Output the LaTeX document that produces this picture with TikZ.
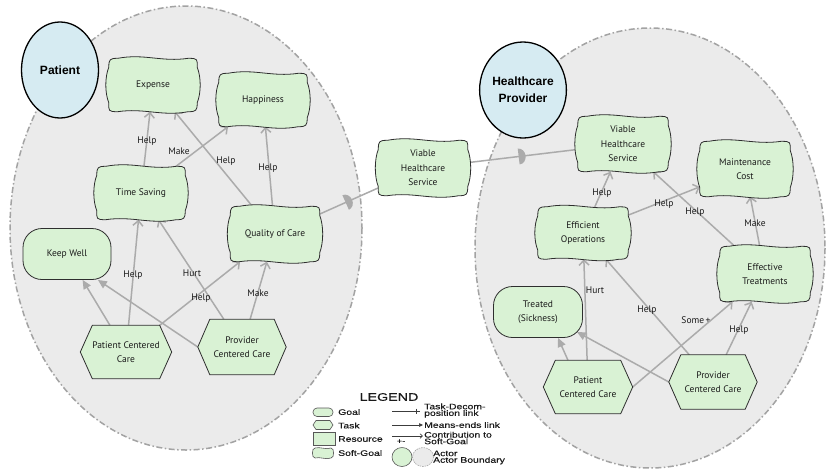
\documentclass[tikz,border=0pt]{standalone}
\usepackage{fontspec}
\usepackage{graphicx}
\setmainfont{PT Sans}
\newfontfamily\actorfont{Liberation Sans}
\newfontfamily\legendfont[FakeStretch=1.3,FakeBold=0.4]{Liberation Sans}
\usetikzlibrary{calc,arrows.meta,decorations.markings,shapes.geometric}

\definecolor{sgfill}{HTML}{D9F2D4}
\definecolor{actfill}{HTML}{D6EBF2}
\definecolor{bndfill}{HTML}{EBEBEB}
\definecolor{bndline}{HTML}{A3A3A3}
\definecolor{edgecol}{HTML}{ABABAB}
\definecolor{outline}{HTML}{2E2E2E}
\definecolor{inkcol}{HTML}{1A1A1A}

\pgfdeclarelayer{back}
\pgfdeclarelayer{edges}
\pgfdeclarelayer{shapes}
\pgfsetlayers{back,edges,shapes,main}

\tikzset{
  elem/.style={rectangle, draw=none, inner sep=0pt, align=center, text=inkcol,
    font=\fontsize{9.5}{14.5}\selectfont, minimum width=88pt, minimum height=53pt},
  sgshape/.style={draw=outline, fill=sgfill, line width=0.8pt},
  goalnode/.style={elem, draw=outline, fill=sgfill, line width=0.8pt, rounded corners=19pt},
  actor/.style={ellipse, draw=black, line width=1.3pt, fill=actfill, inner sep=0pt,
    minimum width=77pt, minimum height=96pt, align=center,
    font=\actorfont\bfseries\fontsize{12}{17}\selectfont},
  boundary/.style={draw=bndline, fill=bndfill, line width=1.5pt,
    dash pattern=on 6pt off 2.5pt on 1.5pt off 2.5pt},
  contrib/.style={draw=edgecol, line width=1.5pt, -{Straight Barb[length=5pt,width=10pt]}},
  meansend/.style={draw=edgecol, line width=1.5pt, -{Triangle[length=9pt,width=8pt]}},
  dependency/.style={draw=edgecol, line width=1.5pt, postaction={decorate},
    decoration={markings, mark=at position 0.49 with
      {\fill[edgecol] (-3pt,-8pt) arc[start angle=-90,end angle=90,x radius=7pt,y radius=8pt] -- cycle;}}},
  lbl/.style={inner sep=0pt, text=inkcol, font=\fontsize{9.5}{11}\selectfont},
  legtext/.style={inner sep=0pt, anchor=west, align=left, text=inkcol,
    font=\legendfont\fontsize{8}{6.6}\selectfont},
  legshape/.style={draw=outline!80, fill=sgfill, line width=0.6pt},
  legline/.style={draw=inkcol!85, line width=0.7pt},
}

% soft-goal outline drawn around a named rectangular node
\newcommand\sgoutline[1]{%
  \path[sgshape]
    ($(#1.north west)+(9,0)$)
    .. controls ($(#1.north west)!0.4!(#1.north east)+(0,-5)$) and ($(#1.north west)!0.6!(#1.north east)+(0,4)$) .. ($(#1.north east)+(-9,0)$)
    .. controls ($(#1.north east)+(1,0)$) and ($(#1.north east)+(0,1)$) .. ($(#1.north east)+(0,9)$)
    .. controls ($(#1.north east)!0.35!(#1.south east)+(4,0)$) and ($(#1.north east)!0.65!(#1.south east)+(4,0)$) .. ($(#1.south east)+(0,-9)$)
    .. controls ($(#1.south east)+(0,-1)$) and ($(#1.south east)+(-1,0)$) .. ($(#1.south east)+(-9,0)$)
    .. controls ($(#1.south west)!0.6!(#1.south east)+(0,5)$) and ($(#1.south west)!0.4!(#1.south east)+(0,-4)$) .. ($(#1.south west)+(9,0)$)
    .. controls ($(#1.south west)+(-1,0)$) and ($(#1.south west)+(0,-1)$) .. ($(#1.south west)+(0,-9)$)
    .. controls ($(#1.south west)!0.35!(#1.north west)+(-4,0)$) and ($(#1.south west)!0.65!(#1.north west)+(-4,0)$) .. ($(#1.north west)+(0,9)$)
    .. controls ($(#1.north west)+(0,1)$) and ($(#1.north west)+(1,0)$) .. ($(#1.north west)+(9,0)$) -- cycle;}

% task (hexagon) outline drawn around a named rectangular node
\newcommand\taskoutline[1]{%
  \path[sgshape]
    ($(#1.north west)+(12,0)$) -- ($(#1.north east)+(-12,0)$) -- (#1.east)
    -- ($(#1.south east)+(-12,0)$) -- ($(#1.south west)+(12,0)$) -- (#1.west) -- cycle;}

\begin{document}
\begin{tikzpicture}[x=1pt,y=-1pt]
\useasboundingbox (0,0) rectangle (826,472);
\begin{pgfonlayer}{back}
  \fill[white] (0,0) rectangle (826,472);
  \path[boundary] (186,228) ellipse [x radius=176, y radius=222];
  \path[boundary] (650,248) ellipse [x radius=175, y radius=220];
\end{pgfonlayer}

% actors
\node[actor] (patient) at (60,70) {Patient};
\node[actor] (provider) at (523,90) {Healthcare\\Provider};

% patient side elements
\node[elem] (exp) at (153,85) {Expense};
\node[elem] (hap) at (263,100) {Happiness};
\node[elem] (ts) at (141,193) {Time Saving};
\node[elem, minimum width=89pt, minimum height=55pt] (qoc) at (275,234) {Quality of Care};
\node[goalnode, minimum height=51pt] (kw) at (67,254) {Keep Well};
\node[elem, minimum width=91pt] (pcc) at (126,352) {Patient Centered\\Care};
\node[elem, minimum height=55pt] (prov) at (242,347) {Provider\\Centered Care};

% dependum
\node[elem, minimum width=89pt, minimum height=55pt] (mvhs) at (423,168) {Viable\\Healthcare\\Service};

% provider side elements
\node[elem, minimum width=90pt, minimum height=55pt] (rvhs) at (623,144) {Viable\\Healthcare\\Service};
\node[elem, minimum width=90pt, minimum height=55pt] (mc) at (745,169) {Maintenance\\Cost};
\node[elem, minimum width=90pt, minimum height=52pt] (eo) at (583,233) {Efficient\\Operations};
\node[elem, minimum width=90pt, minimum height=55pt] (et) at (765,274) {Effective\\Treatments};
\node[goalnode, minimum width=89pt, minimum height=51pt] (tr) at (538,312) {Treated\\(Sickness)};
\node[elem, minimum width=89pt] (rpcc) at (588,387) {Patient\\Centered Care};
\node[elem, minimum height=54pt] (rprov) at (713,382) {Provider\\Centered Care};

\begin{pgfonlayer}{shapes}
  \sgoutline{exp}\sgoutline{hap}\sgoutline{ts}\sgoutline{qoc}\sgoutline{mvhs}
  \sgoutline{rvhs}\sgoutline{mc}\sgoutline{eo}\sgoutline{et}
  \taskoutline{pcc}\taskoutline{prov}\taskoutline{rpcc}\taskoutline{rprov}
\end{pgfonlayer}

\begin{pgfonlayer}{edges}
  % patient
  \draw[contrib] (ts) -- (exp);
  \draw[contrib] (ts) -- (hap);
  \draw[contrib] (qoc) -- (exp);
  \draw[contrib] (qoc) -- (hap);
  \draw[contrib] (pcc) -- (ts);
  \draw[contrib] (prov) -- (ts);
  \draw[contrib] (pcc) -- (qoc);
  \draw[contrib] (prov) -- (qoc);
  \draw[meansend] (pcc) -- (kw);
  \draw[meansend] (prov.west) -- (kw.-40);
  % dependency
  \draw[dependency] (qoc) -- (mvhs);
  \draw[dependency] (mvhs) -- (rvhs);
  % provider
  \draw[contrib] (eo) -- (rvhs);
  \draw[contrib] (eo) -- (mc);
  \draw[contrib] (et) -- (rvhs);
  \draw[contrib] (et) -- (mc);
  \draw[contrib] (rpcc) -- (eo);
  \draw[contrib] (rprov) -- (eo);
  \draw[contrib] (rpcc.east) -- (et);
  \draw[contrib] (rprov) -- (et);
  \draw[meansend] ($(rpcc.north)+(-20,0)$) -- ($(tr.south)+(20,0)$);
  \draw[meansend] (rprov.west) -- ($(tr.south east)+(-6,-6)$);
\end{pgfonlayer}

% contribution labels
\node[lbl] (l1) at (147,141) {Help};
\node[lbl] (l2) at (179,151) {Make};
\node[lbl] (l3) at (226,161) {Help};
\node[lbl] (l4) at (268,168) {Help};
\node[lbl] (l5) at (133,275) {Help};
\node[lbl] (l6) at (192,273) {Hurt};
\node[lbl] (l7) at (201,298) {Help};
\node[lbl] (l8) at (258,293) {Make};
\node[lbl] (r1) at (602,193) {Help};
\node[lbl] (r2) at (664,204) {Help};
\node[lbl] (r3) at (695,212) {Help};
\node[lbl] (r4) at (755,223) {Make};
\node[lbl] (r5) at (595,290) {Hurt};
\node[lbl] (r6) at (647,310) {Help};
\node[lbl] (r7) at (696,320) {Some\,+};
\node[lbl] (r8) at (739,330) {Help};

% legend
\node[inner sep=0pt, text=inkcol, font=\legendfont\fontsize{11}{11}\selectfont] (legtitle) at (389,397) {LEGEND};
\path[legshape, rounded corners=4pt] (313,408) rectangle (333,416.5);
\path[legshape] (316,420.5) -- (330,420.5) -- (333,425) -- (330,429.5) -- (316,429.5) -- (313,425) -- cycle;
\path[legshape] (313,432.5) rectangle (335,445);
\path[legshape] (315,448) .. controls (320,446.5) and (326,450) .. (331,448)
  .. controls (334.5,448) and (334.5,458) .. (331,458)
  .. controls (326,460) and (320,456.5) .. (315,458)
  .. controls (311.5,458) and (311.5,448) .. (315,448) -- cycle;
\node[legtext] (lg1) at (338,412) {Goal};
\node[legtext] (lg2) at (338,425.5) {Task};
\node[legtext] (lg3) at (338,439) {Resource};
\node[legtext] (lg4) at (338,453) {Soft-Goal};
\draw[legline] (392,411) -- (420,411);
\draw[legline] (416,408.5) -- (416,413.5);
\draw[legline, -{Triangle[length=4pt,width=3.5pt]}] (392,425) -- (423,425);
\draw[legline, -{Straight Barb[length=2.5pt,width=4.5pt]}] (392,436) -- (423,436);
\node[inner sep=0pt, text=inkcol, font=\legendfont\fontsize{7}{7}\selectfont] (lgpm) at (401,441.5) {+-};
\path[draw=bndline, fill=bndfill, line width=0.6pt, dash pattern=on 1.5pt off 1pt] (423,457) ellipse [x radius=10.5, y radius=9.5];
\path[legshape] (402,457) ellipse [x radius=10, y radius=9.5];
\node[legtext] (lg5) at (424,410.5) {Task-Decom-\\position link};
\node[legtext] (lg6) at (424,425) {Means-ends link};
\node[legtext] (lg7) at (424,438) {Contribution to\\Soft-Goal};
\node[legtext] (lg8) at (433,457.5) {Actor\\Actor Boundary};
\end{tikzpicture}
\end{document}
